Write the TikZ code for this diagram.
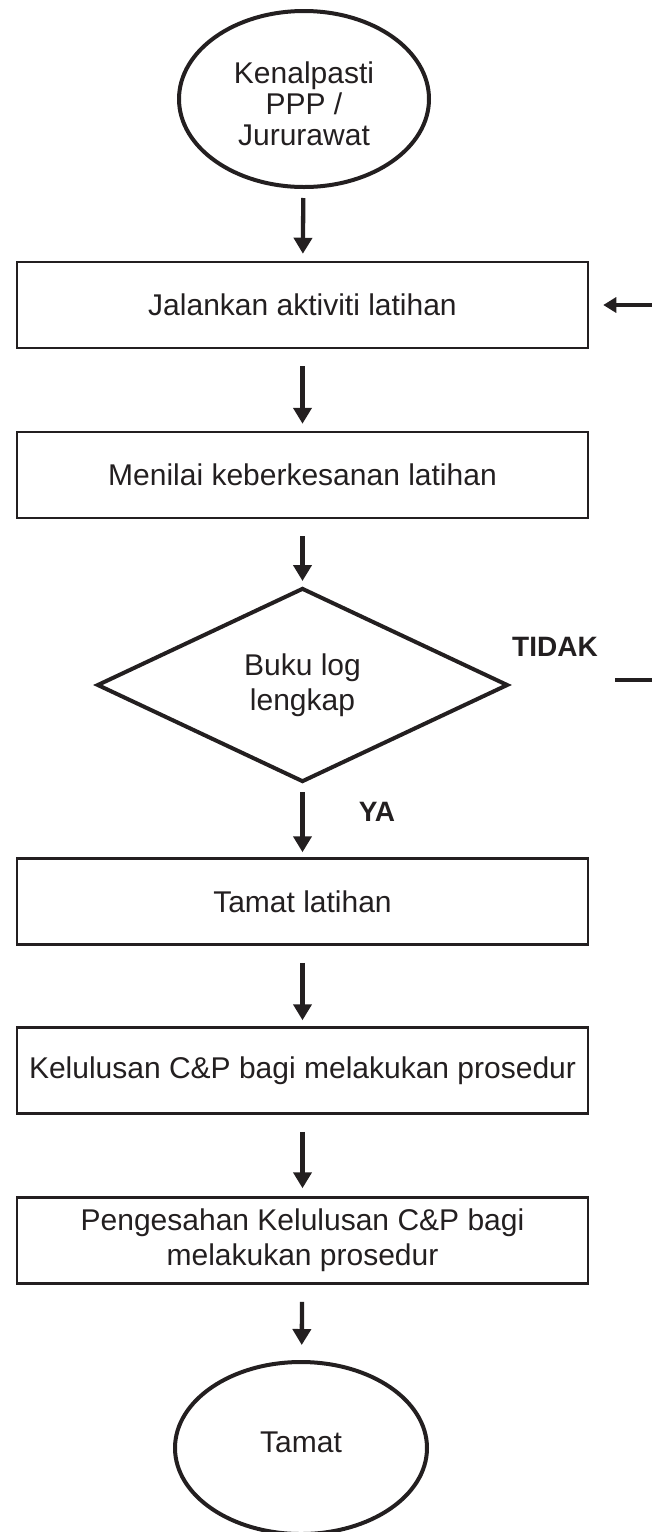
\documentclass[tikz,border=0pt]{standalone}
\usepackage{fontspec}
\setmainfont{Liberation Sans}
\usetikzlibrary{shapes.geometric,arrows.meta,calc}
\definecolor{ink}{HTML}{231F20}
\begin{document}
\begin{tikzpicture}[x=1pt,y=-1pt,
  every node/.style={text=ink,font=\fontsize{30}{35}\selectfont,align=center},
  procbox/.style={draw=ink,line width=2.5pt,minimum width=571pt,minimum height=86pt,inner sep=0pt},
  oval/.style={draw=ink,ellipse,line width=4pt,inner sep=0pt},
  decide/.style={draw=ink,diamond,line width=4pt,inner sep=0pt,minimum width=411pt,minimum height=194pt},
  flow/.style={draw=ink,line width=4.3pt,-{Triangle[length=16pt,width=18pt]}},
  lbl/.style={font=\fontsize{28}{32}\selectfont\bfseries}
]
\useasboundingbox (0,0) rectangle (652,1532);
\node[oval,minimum width=250pt,minimum height=176pt] (start) at (304,99) {\raisebox{-8pt}[\height][\depth]{\begin{tabular}{@{}c@{}}Kenalpasti\\[-4pt]PPP /\\[-4pt]Jururawat\end{tabular}}};
\node[procbox] (b1) at (302.5,305) {Jalankan aktiviti latihan};
\node[procbox] (b2) at (302.5,475) {Menilai keberkesanan latihan};
\node[decide] (d) at (302.5,685) {Buku log\\lengkap};
\node[procbox] (b3) at (302.5,901.5) {Tamat latihan};
\node[procbox] (b4) at (302.5,1070.5) {Kelulusan C\&P bagi melakukan prosedur};
\node[procbox] (b5) at (302.5,1240.5) {Pengesahan Kelulusan C\&P bagi\\melakukan prosedur};
\node[oval,minimum width=252pt,minimum height=172pt] (end) at (301,1448) {\raisebox{6pt}[\height][\depth]{Tamat}};
\node[lbl] (tidak) at (555,647) {TIDAK};
\node[lbl] (ya) at (377,812) {YA};
\coordinate (rin) at (652,305);
\coordinate (ts) at (615,680);
\coordinate (te) at (652,680);

\draw[flow,shorten <=9pt,shorten >=7pt] (start) -- (b1);
\draw[flow,shorten <=17pt,shorten >=7pt] (b1) -- (b2);
\draw[flow,shorten <=17pt,shorten >=5pt] (b2) -- (d);
\draw[flow,shorten <=8pt,shorten >=5pt] (d) -- (b3);
\draw[flow,shorten <=17pt,shorten >=6pt] (b3) -- (b4);
\draw[flow,shorten <=17pt,shorten >=8pt] (b4) -- (b5);
\draw[flow,shorten <=17pt,shorten >=15pt] (b5) -- (end);
\draw[draw=ink,line width=4.5pt,-{Triangle[length=13pt,width=15pt]},shorten >=14pt] (rin) -- (b1.east);
\draw[draw=ink,line width=4.5pt] (ts) -- (te);
\end{tikzpicture}
\end{document}
